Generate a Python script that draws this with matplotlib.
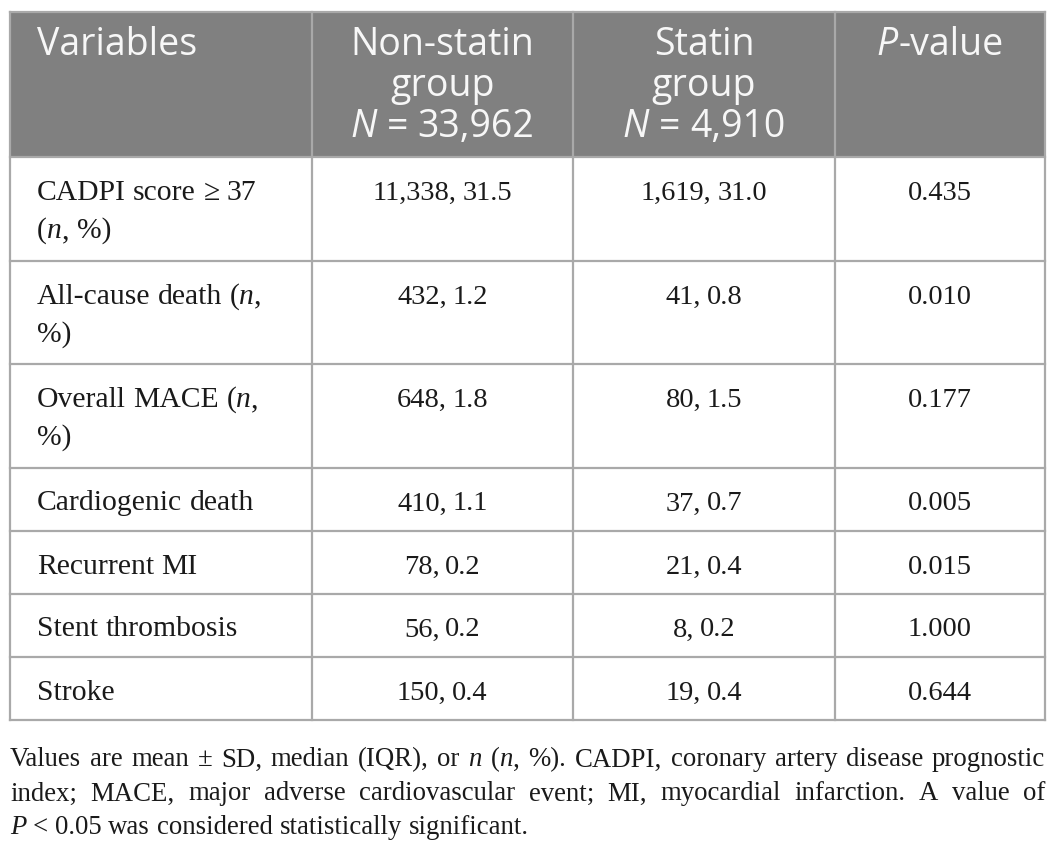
import matplotlib
matplotlib.use("Agg")
import matplotlib.pyplot as plt
from matplotlib.patches import Rectangle

# table content
header = [["Variables"],
          ["Non-statin", "group", "*N* = 33,962"],
          ["Statin", "group", "*N* = 4,910"],
          ["*P*-value"]]
variables = [["CADPI score ≥ 37", "(*n*, %)"],
             ["All-cause death (*n*,", "%)"],
             ["Overall MACE (*n*,", "%)"],
             ["Cardiogenic death"],
             ["Recurrent MI"],
             ["Stent thrombosis"],
             ["Stroke"]]
non_statin = ["11,338, 31.5", "432, 1.2", "648, 1.8", "410, 1.1", "78, 0.2", "56, 0.2", "150, 0.4"]
statin = ["1,619, 31.0", "41, 0.8", "80, 1.5", "37, 0.7", "21, 0.4", "8, 0.2", "19, 0.4"]
p_values = ["0.435", "0.010", "0.177", "0.005", "0.015", "1.000", "0.644"]
footnote = ["Values are mean ± SD, median (IQR), or *n* (*n*, %). CADPI, coronary artery disease prognostic",
            "index; MACE, major adverse cardiovascular event; MI, myocardial infarction. A value of",
            "*P* < 0.05 was considered statistically significant."]

W, H = 1055, 852
col_edges = [10, 312, 573, 835, 1045]
top = 12
header_h = 145
line_h = 41

SANS = ["Open Sans", "DejaVu Sans"]
SERIF = ["Liberation Serif", "DejaVu Serif"]

fig = plt.figure(figsize=(W / 100, H / 100), dpi=100)
ax = fig.add_axes([0, 0, 1, 1])
ax.set_xlim(0, W)
ax.set_ylim(H, 0)
ax.axis("off")
fig.canvas.draw()
rend = fig.canvas.get_renderer()


def parse(s):
    # words -> list of (text, italic) runs; *...* marks italic
    words = []
    for w in s.split(" "):
        parts = w.split("*")
        words.append([(p, i % 2 == 1) for i, p in enumerate(parts) if p])
    return words


def width(s, size, fam, it):
    t = ax.text(0, 0, s, fontsize=size, family=fam, style="italic" if it else "normal")
    w = t.get_window_extent(rend).width
    t.remove()
    return w


def draw_line(s, x, y, size, fam, color, ha="left", justify=None, space=1.0):
    words = parse(s)
    ww = [sum(width(t, size, fam, it) for t, it in wd) for wd in words]
    sp = (width("a a", size, fam, False) - width("aa", size, fam, False)) * space
    total = sum(ww) + sp * (len(words) - 1)
    if justify is not None and len(words) > 1:
        sp = (justify - sum(ww)) / (len(words) - 1)
        total = justify
    if ha == "center":
        x = x - total / 2
    for wd, w in zip(words, ww):
        cx = x
        for t, it in wd:
            ax.text(cx, y, t, fontsize=size, family=fam, color=color,
                    style="italic" if it else "normal", va="baseline", ha="left")
            cx += width(t, size, fam, it)
        x += w + sp


# row geometry
row_edges = [top, top + header_h]
for v in variables:
    row_edges.append(row_edges[-1] + 22.5 + 40.5 * len(v))

ax.add_patch(Rectangle((col_edges[0], top), col_edges[-1] - col_edges[0], header_h,
                       facecolor="#808080", edgecolor="none", zorder=0))
grid = "#a9a9a9"
for y in row_edges:
    ax.plot([col_edges[0], col_edges[-1]], [y, y], color=grid, lw=1.6, solid_capstyle="projecting")
for x in col_edges:
    ax.plot([x, x], [row_edges[0], row_edges[-1]], color=grid, lw=1.6, solid_capstyle="projecting")

# header
hsize = 27
centers = [(col_edges[i] + col_edges[i + 1]) / 2 for i in range(4)]
for j, lines in enumerate(header):
    for k, s in enumerate(lines):
        y = top + 43 + k * line_h
        if j == 0:
            draw_line(s, 37, y, hsize, SANS, "#f7f7f7")
        else:
            draw_line(s, centers[j], y, hsize, SANS, "#f7f7f7", ha="center")

# body
vsize = 21.3
nsize = 20.5
for i in range(len(variables)):
    y0 = row_edges[i + 1] + 43
    for k, s in enumerate(variables[i]):
        draw_line(s, 37, y0 + k * 38, vsize, SERIF, "#1a1a1a")
    draw_line(non_statin[i], centers[1], y0, nsize, SERIF, "#1a1a1a", ha="center", space=0.8)
    draw_line(statin[i], centers[2], y0, nsize, SERIF, "#1a1a1a", ha="center", space=0.8)
    draw_line(p_values[i], centers[3], y0, nsize, SERIF, "#1a1a1a", ha="center")

# footnote
fsize = 19.3
for k, s in enumerate(footnote):
    y = row_edges[-1] + 47 + k * 34
    just = col_edges[-1] - col_edges[0] if k < len(footnote) - 1 else None
    draw_line(s, col_edges[0], y, fsize, SERIF, "#1a1a1a", justify=just)

fig.savefig("out.png", dpi=100)
